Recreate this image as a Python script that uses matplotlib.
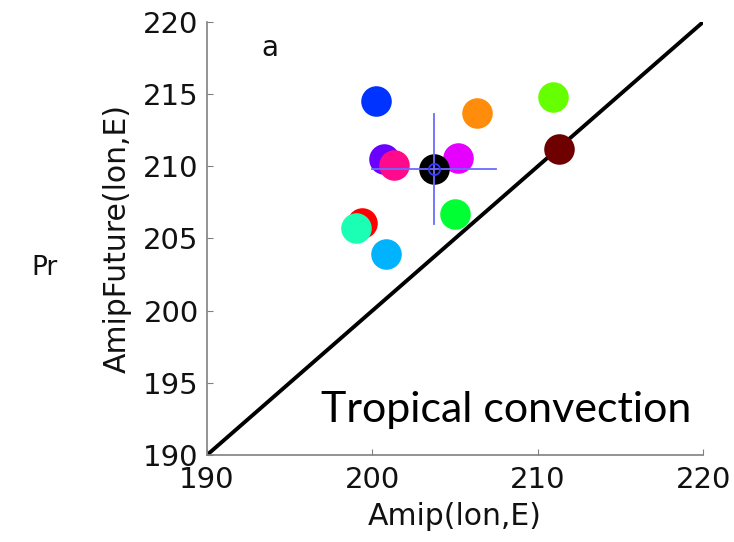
import matplotlib
matplotlib.use('Agg')
import matplotlib.pyplot as plt

plt.rcParams['font.family'] = 'DejaVu Sans'

# model values: Amip vs AmipFuture longitude of max Pr (deg E)
amip = [200.2, 206.3, 210.9, 211.3, 200.7, 201.3, 205.2, 199.4, 199.0, 205.0, 200.8]
future = [214.5, 213.7, 214.8, 211.2, 210.5, 210.1, 210.6, 206.1, 205.7, 206.7, 203.9]
colors = ['#0033ff', '#ff8c0a', '#66ff00', '#6e0000', '#6a00ff', '#ff0a8c',
          '#e600ff', '#ff0000', '#1affb3', '#00ff33', '#00b3ff']

# ensemble mean and spread
mean_x, mean_y = 203.7, 209.8
spread_x = [200.0, 207.5]
spread_y = [206.0, 213.6]

fig = plt.figure(figsize=(7.34, 5.42), dpi=100)
ax = fig.add_axes([0.282, 0.1605, 0.676, 0.799])

ax.plot([190, 220], [190, 220], color='black', lw=2.8, zorder=1)
for x, y, c in zip(amip, future, colors):
    ax.plot(x, y, 'o', color=c, ms=22, mec='none', zorder=2)
ax.plot(mean_x, mean_y, 'o', color='black', ms=22, mec='none', zorder=3)
ax.plot(spread_x, [mean_y, mean_y], color='#6b6bff', lw=1.3, zorder=4)
ax.plot([mean_x, mean_x], spread_y, color='#6b6bff', lw=1.3, zorder=4)
ax.plot(mean_x, mean_y, 'o', mfc='none', mec='#3b3bff', ms=8, mew=1.3, zorder=5)

ax.set_xlim(190, 220)
ax.set_ylim(190, 220)
ax.set_xticks([190, 200, 210, 220])
ax.set_yticks([190, 195, 200, 205, 210, 215, 220])
for s in ['top', 'right']:
    ax.spines[s].set_visible(False)
for s in ['left', 'bottom']:
    ax.spines[s].set_color('#808080')
    ax.spines[s].set_linewidth(1.2)
ax.tick_params(direction='in', length=4, color='#808080', labelsize=21,
               labelcolor='#111111')
ax.tick_params(axis='x', pad=8)
ax.tick_params(axis='y', pad=6)

ax.set_xlabel('Amip(lon,E)', fontsize=21.5, labelpad=6, color='#111111')
ax.set_ylabel('AmipFuture(lon,E)', fontsize=21.5, labelpad=8, color='#111111')
ax.text(193.8, 218.2, 'a', fontsize=20, ha='center', va='center', color='#111111')
ax.text(196.9, 193.1, 'Tropical convection', fontsize=31, family='Lato',
        ha='left', va='center')
fig.text(45 / 734, 1 - 268 / 542, 'Pr', fontsize=19, ha='center', va='center',
         color='#111111')

fig.savefig('out.png', dpi=100)
